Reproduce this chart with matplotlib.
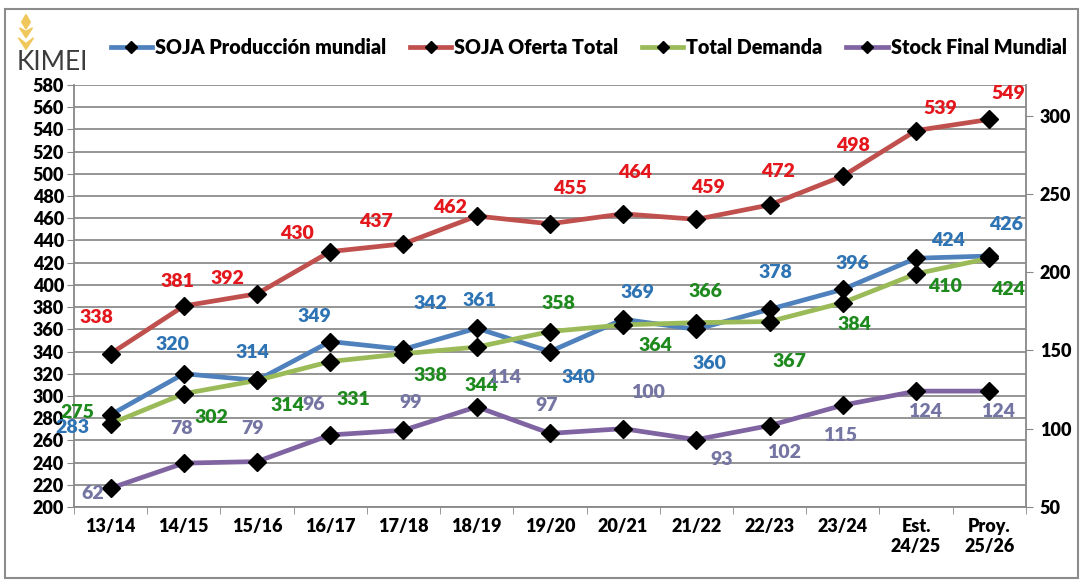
import matplotlib.pyplot as plt
from matplotlib.patches import Rectangle, Polygon
from matplotlib.lines import Line2D

plt.rcParams['font.family'] = ['Lato', 'DejaVu Sans']

categories = ['13/14', '14/15', '15/16', '16/17', '17/18', '18/19', '19/20',
              '20/21', '21/22', '22/23', '23/24', 'Est.\n24/25', 'Proy.\n25/26']
produccion = [283, 320, 314, 349, 342, 361, 340, 369, 360, 378, 396, 424, 426]
oferta = [338, 381, 392, 430, 437, 462, 455, 464, 459, 472, 498, 539, 549]
demanda = [275, 302, 314, 331, 338, 344, 358, 364, 366, 367, 384, 410, 424]
stock = [62, 78, 79, 96, 99, 114, 97, 100, 93, 102, 115, 124, 124]

# label offsets in pixels (dx, dy), hand placed like the excel original
off_prod = [(-38, -13), (-11, 29), (-5, 28), (-16, 25), (27, 46), (3, 28),
            (28, -26), (14, 27), (13, -34), (6, 37), (10, 26), (32, 18), (17, 32)]
off_ofer = [(-14, 36), (-6, 24), (-30, 15), (-33, 18), (-28, 22), (-27, 9),
            (20, 35), (12, 41), (12, 32), (8, 33), (10, 31), (24, 22), (19, 26)]
off_dem = [(-33, 11), (28, -24), (30, -25), (23, -38), (27, -22), (5, -38),
           (8, 28), (32, -21), (9, 31), (20, -40), (12, -22), (29, -13), (19, -31)]
off_stock = [(-18, -5), (-2, 35), (-5, 33), (-17, 30), (7, 28), (27, 29),
             (-3, 28), (25, 36), (25, -20), (14, -27), (-3, -30), (9, -20), (9, -20)]

c_prod, c_ofer, c_dem, c_stock = '#4F81BD', '#C0504D', '#9BBB59', '#8064A2'
t_prod, t_ofer, t_dem, t_stock = '#2E74B5', '#E3171C', '#1E8A1E', '#7575A3'

fig = plt.figure(figsize=(10.83, 5.81), dpi=100)
ax = fig.add_axes([0.0683, 0.1274, 0.879, 0.7263])
ax2 = ax.twinx()

x = list(range(len(categories)))
mk = dict(marker='D', markersize=9, markerfacecolor='black', markeredgecolor='black')
ax.plot(x, produccion, color=c_prod, lw=3.4, zorder=3, **mk)
ax.plot(x, oferta, color=c_ofer, lw=3.4, zorder=3, **mk)
ax.plot(x, demanda, color=c_dem, lw=3.4, zorder=3, **mk)
ax2.plot(x, stock, color=c_stock, lw=3.4, zorder=3, **mk)

lab = dict(textcoords='offset pixels', ha='center', va='center',
           fontsize=14, fontweight='heavy')
for i in x:
    ax.annotate(str(produccion[i]), (i, produccion[i]), xytext=off_prod[i], color=t_prod, **lab)
    ax.annotate(str(oferta[i]), (i, oferta[i]), xytext=off_ofer[i], color=t_ofer, **lab)
    ax.annotate(str(demanda[i]), (i, demanda[i]), xytext=off_dem[i], color=t_dem, **lab)
    ax2.annotate(str(stock[i]), (i, stock[i]), xytext=off_stock[i], color=t_stock, **lab)

ax.set_xlim(-0.5, len(categories) - 0.5)
ax.set_ylim(200, 580)
ax2.set_ylim(50, 319.5)
ax.set_yticks(range(200, 581, 20))
ax2.set_yticks(range(50, 301, 50))
ax.set_xticks(x)
ax.set_xticklabels(categories, fontweight='heavy', fontsize=13)
ax.set_xticks([i - 0.5 for i in range(len(categories) + 1)], minor=True)
ax.tick_params(axis='x', which='major', length=0, pad=8)
ax.tick_params(axis='x', which='minor', length=5, color='#888888')
ax.tick_params(axis='y', length=5, color='#888888', labelsize=13, pad=2)
ax2.tick_params(axis='y', length=5, color='#888888', labelsize=13, pad=5)
for t in ax.get_yticklabels() + ax2.get_yticklabels():
    t.set_fontweight('heavy')

ax.grid(axis='y', color='#8C8C8C', lw=1.3)
ax.set_axisbelow(True)
for a in (ax, ax2):
    for s in a.spines.values():
        s.set_visible(False)
ax.spines['left'].set_visible(True)
ax.spines['bottom'].set_visible(True)
ax2.spines['right'].set_visible(True)
for s in (ax.spines['left'], ax.spines['bottom'], ax2.spines['right']):
    s.set_color('#888888')
    s.set_linewidth(1.3)

handles = [Line2D([], [], color=c, lw=3.4, marker='D', markersize=6,
                  markerfacecolor='black', markeredgecolor='black')
           for c in (c_prod, c_ofer, c_dem, c_stock)]
names = ['SOJA Producción mundial', 'SOJA Oferta Total', 'Total Demanda', 'Stock Final Mundial']
fig.legend(handles, names, loc='center', bbox_to_anchor=(0.5435, 0.918), ncol=4,
           frameon=False, prop={'weight': 'heavy', 'size': 14.2}, handlelength=2.1,
           handletextpad=0.15, columnspacing=1.2)

# outer frame
fig.patches.append(Rectangle((0.005, 0.006), 0.99, 0.979, transform=fig.transFigure,
                             fill=False, edgecolor='#8C8C8C', lw=1.5))

# logo
fig.text(0.015, 0.893, 'KIMEI', fontsize=19, color='#3C3C3C', fontweight='normal',
         ha='left', va='center')
fig.patches.append(Polygon([(0.024, 0.915), (0.031, 0.935), (0.024, 0.925), (0.017, 0.935)],
                           closed=True, transform=fig.transFigure, color='#F0C75A'))
fig.patches.append(Polygon([(0.024, 0.935), (0.030, 0.952), (0.024, 0.946), (0.018, 0.952)],
                           closed=True, transform=fig.transFigure, color='#F0C75A'))
fig.patches.append(Polygon([(0.024, 0.950), (0.028, 0.962), (0.024, 0.975), (0.020, 0.962)],
                           closed=True, transform=fig.transFigure, color='#F0C75A'))

fig.savefig('out.png', dpi=100)
